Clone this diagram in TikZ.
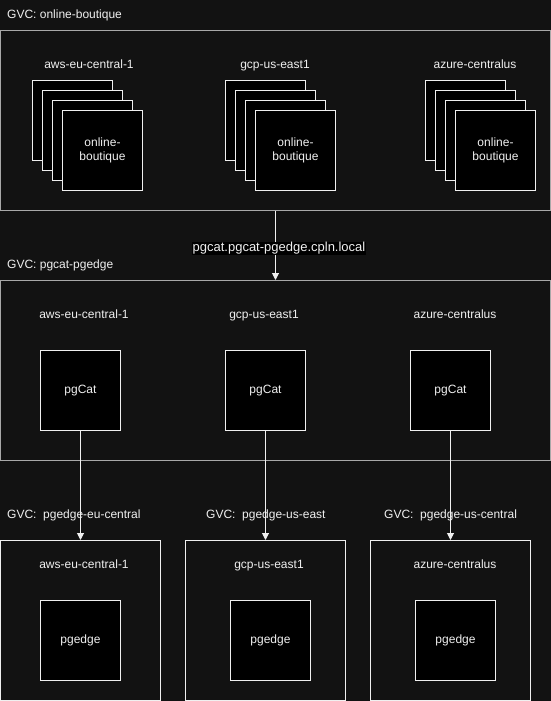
\documentclass[tikz,border=0pt]{standalone}
\usepackage{fontspec}
\setmainfont{Liberation Sans}
\usetikzlibrary{arrows.meta}
\definecolor{bgc}{HTML}{121212}
\definecolor{fgc}{HTML}{F0F0F0}
\definecolor{grayc}{HTML}{A8A8A8}
\begin{document}
\begin{tikzpicture}[x=1pt,y=-1pt,
  every node/.style={font=\fontsize{12}{14}\selectfont, text=fgc},
  gvcbox/.style={draw=grayc, line width=1pt, fill=bgc, rectangle, inner sep=0, anchor=north west, minimum width=550pt, minimum height=180pt},
  regbox/.style={draw=fgc, line width=1pt, fill=bgc, rectangle, inner sep=0, anchor=north west, minimum width=160pt, minimum height=160pt},
  appbox/.style={draw=fgc, line width=1pt, fill=black, rectangle, inner sep=0, anchor=north west, minimum width=80pt, minimum height=80pt, align=center},
  lbl/.style={inner sep=0, text height=9pt, text depth=2.5pt},
  lblw/.style={lbl, anchor=west},
  arr/.style={draw=fgc, line width=1pt, -{Triangle[length=7pt,width=7pt]}}
]
\fill[bgc] (0,0) rectangle (551,701);
\useasboundingbox (0,0) rectangle (551,701);

% top GVC
\node[lblw] (tA) at (7,15) {GVC: online-boutique};
\node[gvcbox] (gA) at (0,30) {};
\node[lbl] (la1) at (89,65) {aws-eu-central-1};
\node[lbl] (la2) at (275,65) {gcp-us-east1};
\node[lbl] (la3) at (475,65) {azure-centralus};
\foreach \x/\n in {32/a,225/b,425/c}{
  \node[appbox] (s\n1) at (\x,80) {};
  \node[appbox] (s\n2) at (\x+10,90) {};
  \node[appbox] (s\n3) at (\x+20,100) {};
  \node[appbox] (s\n4) at (\x+30,110) {online-\\boutique};
}

% middle GVC
\node[lblw] (tB) at (7,265) {GVC: pgcat-pgedge};
\node[gvcbox] (gB) at (0,280) {};
\node[lbl] (lb1) at (84,315) {aws-eu-central-1};
\node[lbl] (lb2) at (264,315) {gcp-us-east1};
\node[lbl] (lb3) at (455,315) {azure-centralus};
\node[appbox] (p1) at (40,350) {};
\node[appbox] (p2) at (225,350) {};
\node[appbox] (p3) at (410,350) {};
\node[lbl] at (p1.center) {pgCat};
\node[lbl] at (p2.center) {pgCat};
\node[lbl] at (p3.center) {pgCat};

\coordinate (ax) at (275.5,0);
\draw[arr] (gA.south -| ax) -- (gB.north -| ax)
  node[pos=0.54, fill=black, inner sep=0.5pt, xshift=3.5pt, font=\fontsize{13}{15}\selectfont, text height=9.5pt, text depth=2.7pt] {pgcat.pgcat-pgedge.cpln.local};

% bottom GVCs
\node[lblw] (tC1) at (7,515) {GVC:\ \ pgedge-eu-central};
\node[lblw] (tC2) at (206,515) {GVC:\ \ pgedge-us-east};
\node[lblw] (tC3) at (384,515) {GVC:\ \ pgedge-us-central};
\node[regbox] (r1) at (0,540) {};
\node[regbox] (r2) at (185,540) {};
\node[regbox] (r3) at (370,540) {};
\node[lbl] at (84,565) {aws-eu-central-1};
\node[lbl] at (269,565) {gcp-us-east1};
\node[lbl] at (455,565) {azure-centralus};
\node[appbox] (e1) at (40,600) {};
\node[appbox] (e2) at (230,600) {};
\node[appbox] (e3) at (415,600) {};
\node[lbl] at (e1.center) {pgedge};
\node[lbl] at (e2.center) {pgedge};
\node[lbl] at (e3.center) {pgedge};

\draw[arr] (p1.south) -- (r1.north);
\draw[arr] (p2.south) -- (p2.south |- r2.north);
\draw[arr] (p3.south) -- (p3.south |- r3.north);
\end{tikzpicture}
\end{document}
